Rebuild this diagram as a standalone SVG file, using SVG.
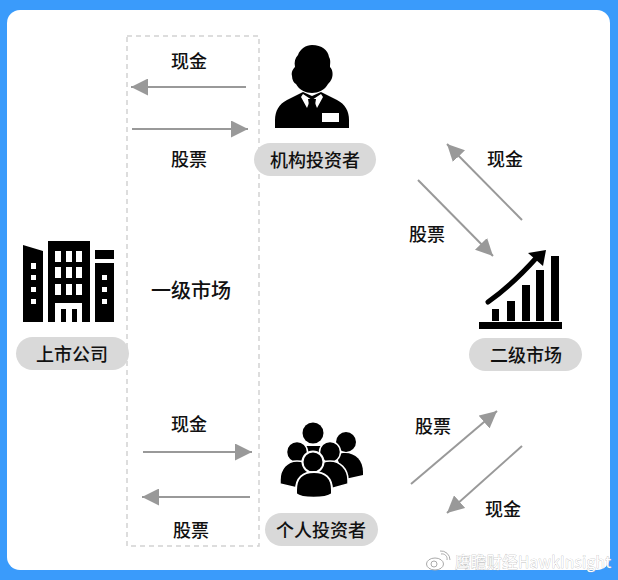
<svg xmlns="http://www.w3.org/2000/svg" width="618" height="580" viewBox="0 0 618 580">
<style>
.t{font-family:"Noto Sans CJK SC","Noto Sans",sans-serif;font-size:18px;font-weight:500;fill:#111;text-anchor:middle}
.pill{fill:#d9d9d9}
.a{stroke:#999;stroke-width:2;fill:none;marker-end:url(#ah)}
.k{fill:#000}
.w{fill:#fff}
.wm{font-family:"Noto Sans CJK SC","Liberation Sans",sans-serif;font-size:15.5px;fill:#fff;stroke:#aaa;stroke-width:.5;paint-order:stroke}
</style>
<defs>
<marker id="ah" markerUnits="userSpaceOnUse" markerWidth="17" markerHeight="17" refX="16" refY="8" orient="auto" viewBox="0 0 16 16"><path d="M0 0L16 8L0 16Z" fill="#999"/></marker>
</defs>
<rect width="618" height="580" fill="#3a9bfb"/>
<rect x="7" y="10" width="603" height="560" rx="13" fill="#fff"/>
<rect id="primary-box" x="127" y="36" width="132" height="510" fill="none" stroke="#d2d2d2" stroke-width="1.5" stroke-dasharray="5 4"/>
<g id="connectors">
<line class="a" x1="246" y1="87" x2="131" y2="87"/>
<line class="a" x1="132" y1="129" x2="248" y2="129"/>
<line class="a" x1="522" y1="220" x2="447" y2="144"/>
<line class="a" x1="418" y1="180" x2="493" y2="256"/>
<line class="a" x1="143" y1="452" x2="252" y2="452"/>
<line class="a" x1="250" y1="497" x2="142" y2="497"/>
<line class="a" x1="411" y1="484" x2="497" y2="411"/>
<line class="a" x1="522" y1="446" x2="447" y2="513"/>
</g>
<g id="labels">
<text class="t" x="189" y="68">现金</text>
<text class="t" x="189" y="166">股票</text>
<text class="t" x="505" y="166">现金</text>
<text class="t" x="427" y="241">股票</text>
<text class="t" x="191" y="298" style="font-size:20px">一级市场</text>
<text class="t" x="189" y="431">现金</text>
<text class="t" x="191" y="537">股票</text>
<text class="t" x="433" y="433">股票</text>
<text class="t" x="503" y="516">现金</text>
</g>
<g id="company">
<path class="k" d="M23 245L43 251V322H23Z"/>
<path class="k" d="M48 241H90V322H48Z"/>
<path class="k" d="M95 250H114V259H95ZM95 263H114V322H95Z"/>
<path class="w" d="M55 251h6v11h-6zM66 251h6v11h-6zM76 251h6v11h-6zM55 267h6v11h-6zM66 267h6v11h-6zM76 267h6v11h-6zM55 284h6v11h-6zM66 284h6v11h-6zM76 284h6v11h-6z"/>
<path class="w" d="M55 303H82V322H77V309H72V322H66V309H61V322H55Z"/>
<path class="w" d="M31 263h5v6h-5zM31 275h5v5h-5zM31 287h5v5h-5zM31 299h5v5h-5zM102 275h5v5h-5zM102 287h5v5h-5zM102 299h5v5h-5z"/>
<rect class="pill" x="16" y="337" width="113" height="33" rx="16.5"/>
<text class="t" x="72" y="361">上市公司</text>
</g>
<g id="institution">
<path class="k" d="M312 45C322 45 328 50 329 57C331 60 330 64 330 67C333 70 333 75 332 78C331 81 329 83 328 84C325 90 318 93 312 93C306 93 299 90 296 84C294 83 292 80 292 76C291 72 293 69 295 67C294 62 295 58 298 55C300 49 306 45 312 45Z"/>
<path class="k" d="M303 92L287 100C279 104 275 111 275 120V128H349V120C349 111 345 104 337 100L321 92L312 96Z"/>
<path class="w" d="M303 94L312 100L321 94L323 97L317 108L315 103H309L307 108L301 97Z"/>
<path class="k" d="M308 99H316L315 105L318 122H306L309 105Z"/>
<rect class="w" x="322" y="113" width="17" height="9"/>
<rect class="pill" x="254" y="143" width="122" height="33" rx="16.5"/>
<text class="t" x="315" y="167">机构投资者</text>
</g>
<g id="market">
<path class="k" d="M479 322H562V329H479ZM492 309h7v12h-7zM507 301h8v20h-8zM522 285h8v36h-8zM536 270h8v51h-8zM551 256h8v65h-8z"/>
<path d="M488 302C505 290 522 274 538 256" fill="none" stroke="#000" stroke-width="5" stroke-linecap="round"/>
<path class="k" d="M546 250L543 266L528 253Z"/>
<rect class="pill" x="469" y="338" width="113" height="33" rx="16.5"/>
<text class="t" x="526" y="362">二级市场</text>
</g>
<g id="individual">
<circle class="k" cx="346" cy="442" r="10"/>
<path class="k" d="M336 455C351 449 363 458 363 472V475L345 479Z"/>
<circle class="k" cx="313" cy="433" r="10.5"/>
<path class="k" d="M300 446H326V462H300Z"/>
<circle class="k" cx="297" cy="452" r="10.5" stroke="#fff" stroke-width="1.5"/>
<circle class="k" cx="330" cy="452" r="10.5" stroke="#fff" stroke-width="1.5"/>
<path class="k" stroke="#fff" stroke-width="1.5" d="M280 480C280 469 287 461 297 461C307 461 315 469 315 480V485L297 488L280 484Z"/>
<path class="k" stroke="#fff" stroke-width="1.5" d="M312 480C312 469 320 461 330 461C340 461 348 469 348 480V484L330 489L312 485Z"/>
<circle class="k" cx="313" cy="462" r="10.5" stroke="#fff" stroke-width="2"/>
<path class="k" stroke="#fff" stroke-width="2" d="M296 490C296 478 303 472 314 472C325 472 332 478 332 490V494C325 499 302 499 296 494Z"/>
<rect class="pill" x="265" y="513" width="113" height="33" rx="16.5"/>
<text class="t" x="321" y="537">个人投资者</text>
</g>
<g id="watermark">
<ellipse cx="435" cy="564" rx="8.5" ry="6" fill="none" stroke="#aaa" stroke-width="1"/>
<circle cx="434" cy="564" r="3" fill="none" stroke="#aaa" stroke-width="1"/>
<path d="M441 554A5 5 0 0 1 447 560M440 551A9 9 0 0 1 450 560" fill="none" stroke="#aaa" stroke-width="1"/>
<text class="wm" x="455" y="568" textLength="156">鹰瞻财经HawkInsight</text>
</g>
</svg>
